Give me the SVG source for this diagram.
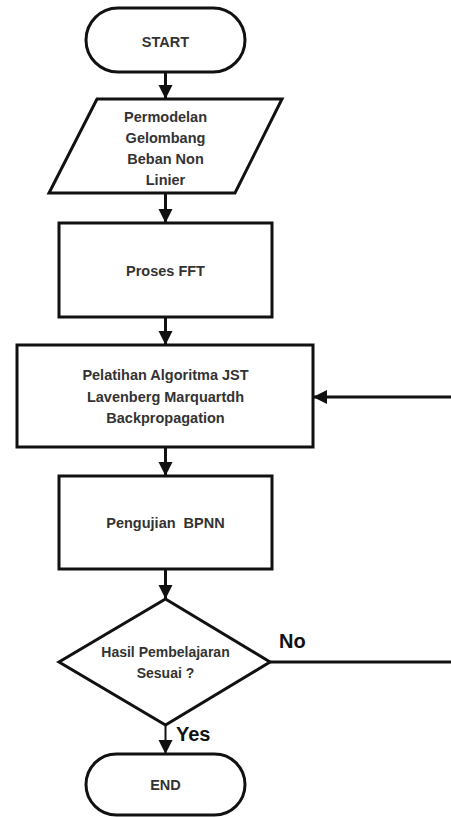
<svg xmlns="http://www.w3.org/2000/svg" width="451" height="817" viewBox="0 0 451 817">
<defs>
<marker id="ah" markerUnits="userSpaceOnUse" markerWidth="16" markerHeight="16" viewBox="0 0 16 16" refX="15" refY="8" orient="auto">
<path d="M1,1 L15,8 L1,15 Z" fill="#111"/>
</marker>
</defs>
<style>
.n{fill:#fff;stroke:#111;stroke-width:3}
.t{font-family:"Liberation Sans",Arial,sans-serif;font-weight:bold;font-size:14.5px;fill:#333;text-anchor:middle}
.c{stroke:#111;stroke-width:3;fill:none}
.l{font-family:"Liberation Sans",Arial,sans-serif;font-weight:bold;font-size:20px;fill:#111}
</style>
<rect width="451" height="817" fill="#fff"/>
<g id="connectors">
<line class="c" x1="165.5" y1="72" x2="165.5" y2="99" marker-end="url(#ah)"/>
<line class="c" x1="165.5" y1="193" x2="165.5" y2="223" marker-end="url(#ah)"/>
<line class="c" x1="165.5" y1="317" x2="165.5" y2="345" marker-end="url(#ah)"/>
<line class="c" x1="451" y1="397" x2="313" y2="397" marker-end="url(#ah)"/>
<line class="c" x1="165.5" y1="447" x2="165.5" y2="476" marker-end="url(#ah)"/>
<line class="c" x1="165.5" y1="569" x2="165.5" y2="599" marker-end="url(#ah)"/>
<line class="c" x1="270" y1="662" x2="451" y2="662"/>
<line stroke="#111" stroke-width="2" x1="165.5" y1="725" x2="165.5" y2="754" marker-end="url(#ah)"/>
<text class="l" x="279" y="648">No</text>
<text class="l" x="176" y="741">Yes</text>
</g>
<g id="start">
<rect class="n" x="86" y="8" width="159" height="64" rx="32"/>
<text class="t" x="165.5" y="47">START</text>
</g>
<g id="permodelan">
<polygon class="n" points="97,99 282,99 235,193 49,193"/>
<text class="t" x="165.5" y="122">Permodelan</text>
<text class="t" x="165.5" y="143">Gelombang</text>
<text class="t" x="165.5" y="164">Beban Non</text>
<text class="t" x="165.5" y="185">Linier</text>
</g>
<g id="fft">
<rect class="n" x="59" y="223" width="213" height="94"/>
<text class="t" x="165.5" y="276">Proses FFT</text>
</g>
<g id="pelatihan">
<rect class="n" x="17" y="345" width="296" height="102"/>
<text class="t" x="165.5" y="380">Pelatihan Algoritma JST</text>
<text class="t" x="165.5" y="402">Lavenberg Marquartdh</text>
<text class="t" x="165.5" y="423">Backpropagation</text>
</g>
<g id="pengujian">
<rect class="n" x="59" y="476" width="213" height="93"/>
<text class="t" x="165.5" y="528" xml:space="preserve">Pengujian  BPNN</text>
</g>
<g id="hasil">
<polygon class="n" points="165.5,599 270,662 165.5,725 59,662"/>
<text class="t" x="165.5" y="657" style="font-size:14px">Hasil Pembelajaran</text>
<text class="t" x="165.5" y="678" style="font-size:14px">Sesuai ?</text>
</g>
<g id="end">
<rect class="n" x="86" y="754" width="159" height="61" rx="30.5"/>
<text class="t" x="165.5" y="790">END</text>
</g>
</svg>
